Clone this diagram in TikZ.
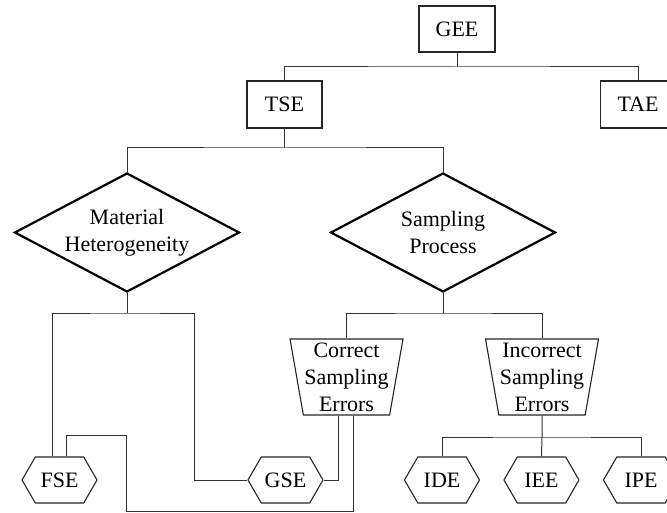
\documentclass[tikz,border=0pt]{standalone}
\usepackage{fontspec}
\setmainfont{Liberation Serif}
\usetikzlibrary{shapes.geometric,shapes.symbols,calc}

\tikzset{
  lbl/.style={font=\fontsize{22}{27}\selectfont, align=center, inner sep=0pt},
  boxnode/.style={lbl, draw=black!85, line width=1.1pt, rectangle, minimum width=75pt, minimum height=47pt},
  decision/.style={lbl, draw=black, line width=2.2pt, diamond, aspect=1.9, minimum width=225pt, minimum height=119pt},
  errgroup/.style={lbl, draw=black!85, line width=1.1pt, trapezium, shape border rotate=180,
    trapezium angle=79, trapezium stretches body, minimum width=113pt, minimum height=76pt},
  leaf/.style={lbl, draw=black!85, line width=1.1pt, signal, signal to=west and east,
    signal pointer angle=120, minimum width=75pt, minimum height=46pt},
  link/.style={draw=black!80, line width=1pt},
}

\begin{document}
\begin{tikzpicture}[x=1pt, y=-1pt]
\clip (0,0) rectangle (667,513);
\fill[white] (0,0) rectangle (667,513);

% top levels
\node[boxnode, minimum width=76pt, minimum height=46pt] (gee) at (457,29) {GEE};
\node[boxnode] (tse) at (284.5,104.5) {TSE};
\node[boxnode] (tae) at (638,104.5) {TAE};

% decisions
\node[decision] (mh) at (127,232.5) {Material\\Heterogeneity};
\node[decision] (sp) at (443,232.5) {Sampling\\Process};

% error groups
\node[errgroup] (cse) at (346.5,377) {Correct\\Sampling\\Errors};
\node[errgroup] (ise) at (542,377) {Incorrect\\Sampling\\Errors};

% leaf errors
\node[leaf] (fse) at (59.5,480) {FSE};
\node[leaf] (gse) at (285.5,480) {GSE};
\node[leaf] (ide) at (442,480) {IDE};
\node[leaf] (iee) at (541.5,480) {IEE};
\node[leaf] (ipe) at (641,480) {IPE};

% junction points
\coordinate (j1) at (457,67);
\coordinate (j2) at (284.5,148);
\coordinate (j3) at (127,313);
\coordinate (j4) at (443,313);
\coordinate (j5) at (542,437);
\coordinate (k1) at (126,511);
\coordinate (k2) at (126,435);

% connectors
\draw[link] (gee.south) -- (j1);
\draw[link] (tse.north) |- (j1) -| (tae.north);
\draw[link] (tse.south) -- (j2);
\draw[link] (mh.north) |- (j2) -| (sp.north);
\draw[link] (mh.south) -- (j3);
\draw[link] ([xshift=-7.5pt]fse.north) |- (j3) -| ([xshift=-53pt]gse.west) -- (gse.west);
\draw[link] (sp.south) -- (j4);
\draw[link] (cse.north) |- (j4) -| (ise.north);
\draw[link] (ise.south) -- (j5);
\draw[link] (ide.north) |- (j5) -| (ipe.north);
\draw[link] (j5) -- (iee.north);
\draw[link] ([xshift=-8.5pt]cse.south) |- (gse.east);
\draw[link] ([xshift=6.5pt]cse.south) |- (k1) -- (k2) -| ([xshift=6.5pt]fse.north);
\end{tikzpicture}
\end{document}
